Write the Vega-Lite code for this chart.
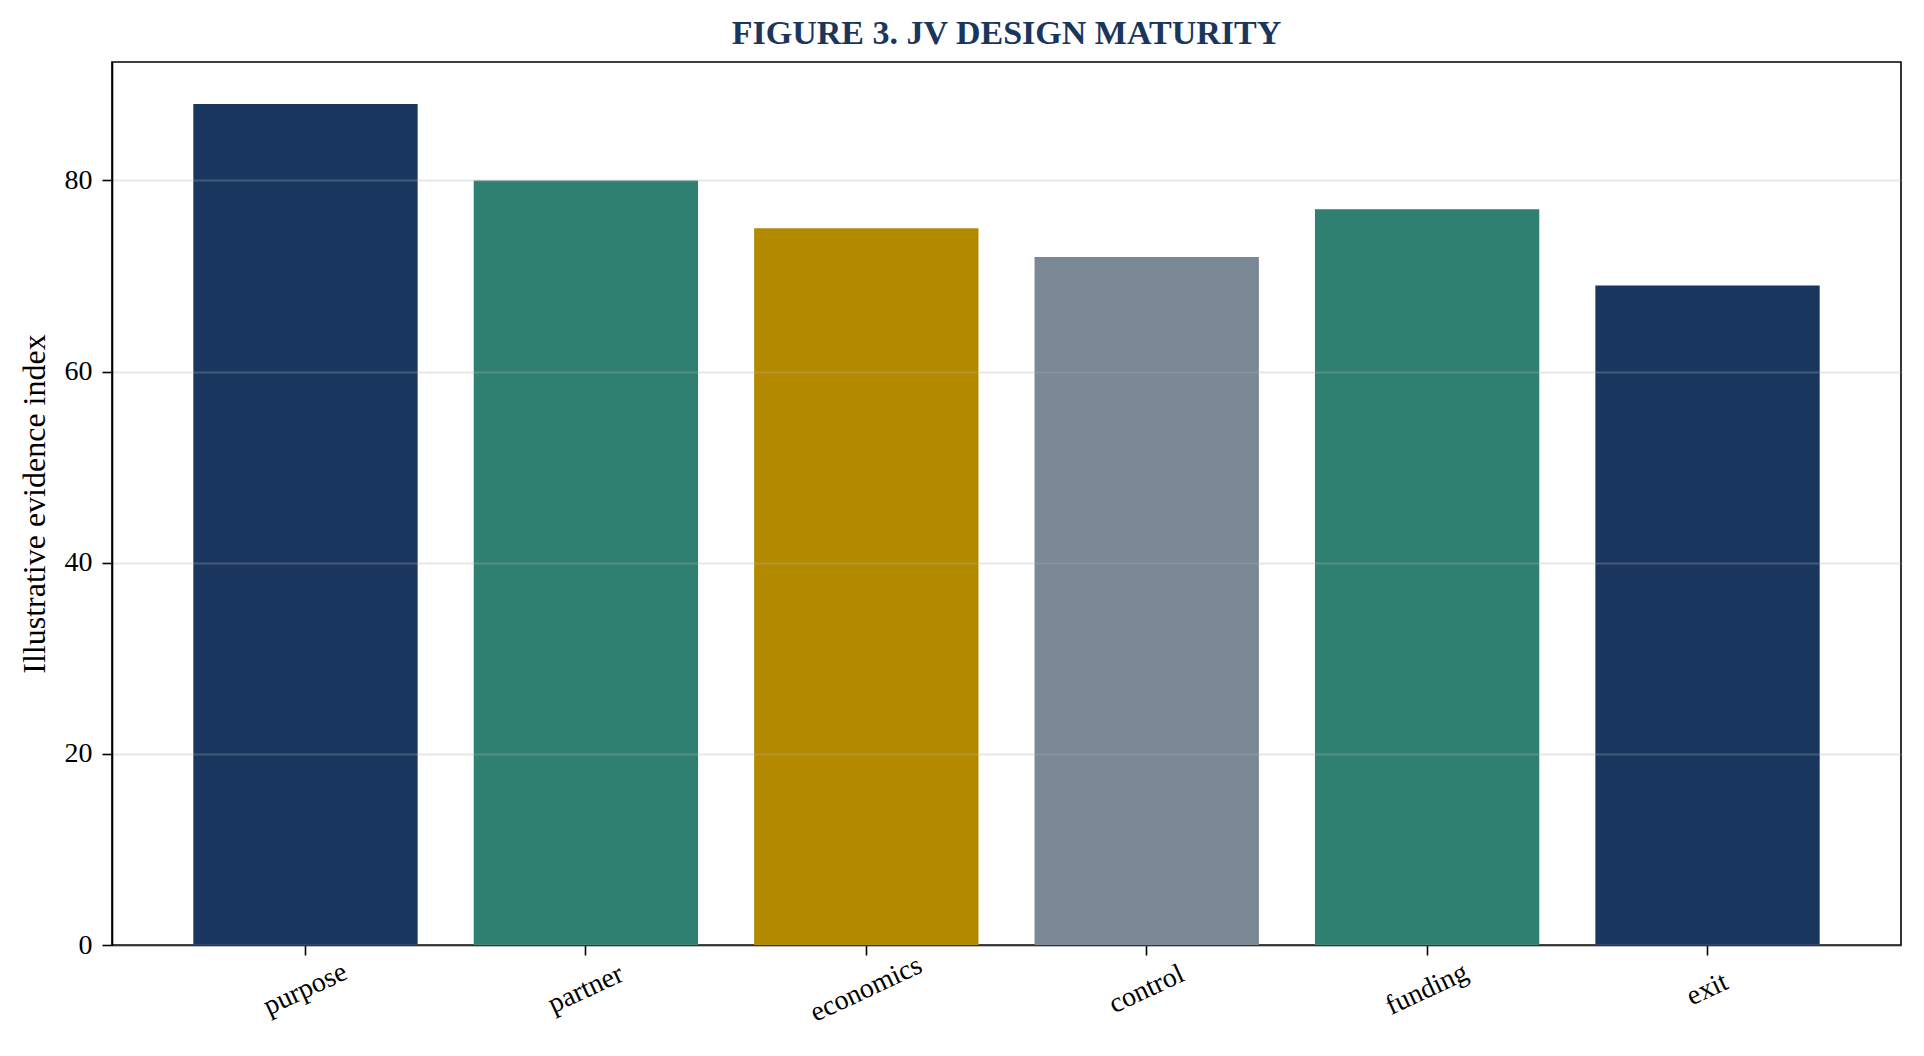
{
  "$schema": "https://vega.github.io/schema/vega-lite/v6.json",
  "autosize": {"type": "none"},
  "padding": {"left": 112, "top": 62, "right": 23, "bottom": 111},
  "width": 1789,
  "height": 883,
  "background": "white",
  "title": {
    "text": "FIGURE 3. JV DESIGN MATURITY",
    "anchor": "middle",
    "font": "Liberation Serif",
    "fontSize": 34,
    "fontWeight": "bold",
    "color": "#1b365d",
    "offset": 11
  },
  "data": {
    "values": [
      {"factor": "purpose", "index": 88},
      {"factor": "partner", "index": 80},
      {"factor": "economics", "index": 75},
      {"factor": "control", "index": 72},
      {"factor": "funding", "index": 77},
      {"factor": "exit", "index": 69}
    ]
  },
  "mark": {"type": "bar"},
  "encoding": {
    "x": {
      "field": "factor",
      "type": "nominal",
      "sort": null,
      "title": null,
      "scale": {"paddingInner": 0.2, "paddingOuter": 0.29},
      "axis": {
        "labelAngle": -25,
        "labelAlign": "center",
        "labelBaseline": "middle",
        "labelPadding": 34,
        "grid": false
      }
    },
    "y": {
      "field": "index",
      "type": "quantitative",
      "title": "Illustrative evidence index",
      "scale": {"domain": [0, 92.4], "nice": false, "zero": true},
      "axis": {
        "values": [0, 20, 40, 60, 80],
        "grid": true,
        "gridColor": "#b0b0b0",
        "gridOpacity": 0.3,
        "gridWidth": 2,
        "titlePadding": 13,
        "zindex": 1
      }
    },
    "color": {
      "field": "factor",
      "type": "nominal",
      "legend": null,
      "scale": {
        "domain": ["purpose", "partner", "economics", "control", "funding", "exit"],
        "range": ["#18365e", "#2f8070", "#b38900", "#7a8794", "#2f8070", "#18365e"]
      }
    }
  },
  "config": {
    "font": "Liberation Serif",
    "view": {"stroke": "black", "strokeWidth": 1.6},
    "axis": {
      "domainColor": "black",
      "domainWidth": 1.6,
      "tickColor": "black",
      "tickWidth": 1.6,
      "tickSize": 10,
      "labelPadding": 10,
      "labelFont": "Liberation Serif",
      "labelFontSize": 28,
      "labelColor": "black",
      "titleFont": "Liberation Serif",
      "titleFontSize": 32,
      "titleFontWeight": "normal",
      "titleColor": "black"
    }
  }
}
